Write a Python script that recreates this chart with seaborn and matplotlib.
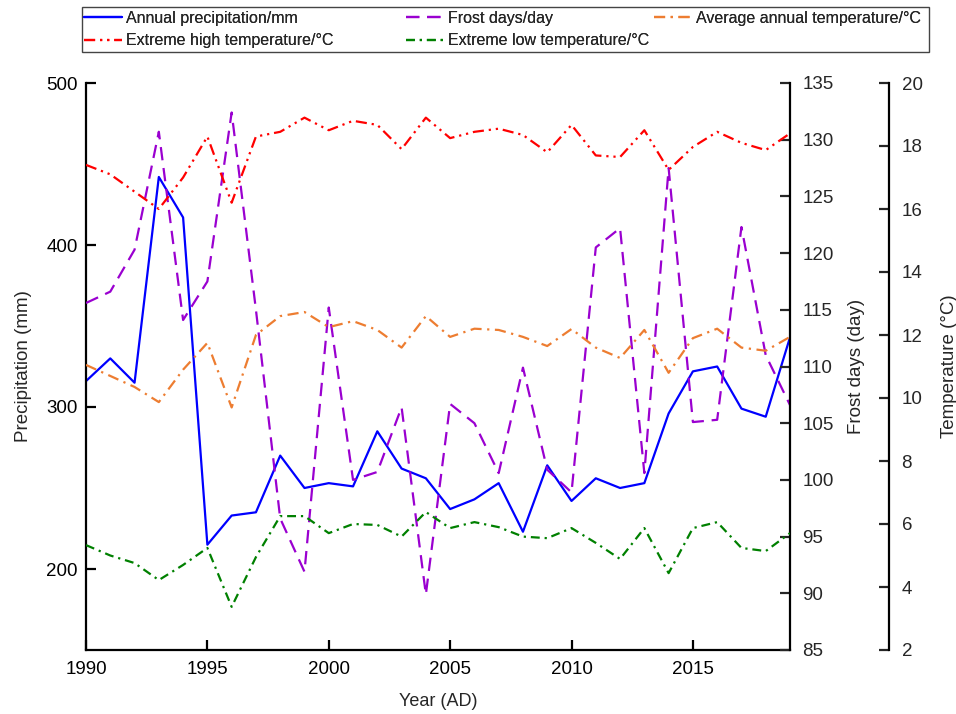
import matplotlib
matplotlib.use("Agg")
import matplotlib.pyplot as plt
from matplotlib.patches import Rectangle
import seaborn as sns
import numpy as np

years = list(range(1990, 2020))
precip = [316, 330, 315, 442, 417, 215, 233, 235, 270, 250, 253, 251, 285, 262, 256,
          237, 243, 253, 223, 264, 242, 256, 250, 253, 296, 322, 325, 299, 294, 343]
frost = [115.6, 116.6, 120.3, 130.7, 114.1, 117.5, 132.4, 115.0, 96.6, 91.9, 115.2, 100.0,
         100.7, 106.4, 89.9, 106.7, 105.0, 100.6, 109.9, 100.9, 98.9, 120.5, 122.2, 100.6,
         127.5, 105.1, 105.3, 122.3, 111.0, 106.6]
avg_temp = [11.05, 10.7, 10.35, 9.87, 10.9, 11.75, 9.7, 12.0, 12.6, 12.73, 12.25, 12.44,
            12.16, 11.6, 12.6, 11.94, 12.2, 12.16, 11.94, 11.65, 12.19, 11.6, 11.27, 12.16,
            10.8, 11.9, 12.2, 11.6, 11.5, 11.94]
high_temp = [17.4, 17.1, 16.55, 16.0, 17.0, 18.3, 16.2, 18.3, 18.45, 18.9, 18.5, 18.8,
             18.67, 17.9, 18.9, 18.25, 18.45, 18.55, 18.35, 17.8, 18.67, 17.7, 17.65, 18.5,
             17.24, 17.97, 18.45, 18.1, 17.87, 18.4]
low_temp = [5.33, 5.0, 4.76, 4.22, 4.7, 5.24, 3.37, 4.95, 6.25, 6.25, 5.71, 6.0,
            5.97, 5.6, 6.38, 5.87, 6.06, 5.9, 5.6, 5.55, 5.87, 5.4, 4.89, 5.87,
            4.44, 5.87, 6.06, 5.24, 5.14, 5.71]

labels = ["Annual precipitation/mm", "Frost days/day", "Average annual temperature/°C",
          "Extreme high temperature/°C", "Extreme low temperature/°C"]
x_ticks = [1990, 1995, 2000, 2005, 2010, 2015]
p_ticks = [200, 300, 400, 500]
f_ticks = [85, 90, 95, 100, 105, 110, 115, 120, 125, 130, 135]
t_ticks = [2, 4, 6, 8, 10, 12, 14, 16, 18, 20]

sns.set_style("white")
plt.rcParams["font.family"] = ["Liberation Sans", "DejaVu Sans"]
plt.rcParams["font.size"] = 13

W, H = 956, 714
fig = plt.figure(figsize=(W / 100, H / 100), dpi=100)
ax = fig.add_axes([86 / W, 1 - 650 / H, (790 - 86) / W, (650 - 83) / H])
ax2 = ax.twinx()
ax3 = ax.twinx()
ax3.spines["right"].set_position(("axes", (889 - 86) / (790 - 86)))

lw = 1.6
sns.lineplot(x=years, y=precip, ax=ax, color="#0000FF", linewidth=lw, legend=False)
sns.lineplot(x=years, y=frost, ax=ax2, color="#9A00D0", linewidth=lw,
             linestyle=(0, (6, 3.5)), legend=False)
sns.lineplot(x=years, y=avg_temp, ax=ax3, color="#ED7D31", linewidth=lw,
             linestyle=(0, (5, 2.5, 1, 2.5)), legend=False)
sns.lineplot(x=years, y=high_temp, ax=ax3, color="#FF0000", linewidth=lw,
             linestyle=(0, (5, 2.2, 1, 2.2, 1, 2.2)), legend=False)
sns.lineplot(x=years, y=low_temp, ax=ax3, color="#008000", linewidth=lw,
             linestyle=(0, (4, 2.2, 1, 2.2)), legend=False)

ax.set_xlim(1990, 2019)
ax.set_ylim(150, 500)
ax2.set_ylim(85, 135)
ax3.set_ylim(2, 20)
ax.set_xticks(x_ticks)
ax.set_yticks(p_ticks)
ax2.set_yticks(f_ticks)
ax3.set_yticks(t_ticks)

for a in (ax, ax2, ax3):
    a.spines["top"].set_visible(False)
    for s in a.spines.values():
        s.set_linewidth(1.6)
        s.set_color("black")
ax.spines["right"].set_visible(False)
for s in ("left", "bottom", "top"):
    ax2.spines[s].set_visible(False)
    ax3.spines[s].set_visible(False)

ax.tick_params(axis="both", direction="in", length=7, width=1.6, labelsize=13.5, pad=6,
               left=True, bottom=True, colors="black")
ax.tick_params(axis="x", pad=8)
ax2.tick_params(axis="y", direction="in", length=7, width=1.6, labelsize=13.5, pad=9, right=True)
ax3.tick_params(axis="y", direction="in", length=7, width=1.6, labelsize=13.5, pad=9, right=True)

ax.set_xlabel("Year (AD)", fontsize=13, labelpad=11)
ax.set_ylabel("Precipitation (mm)", fontsize=13.5, labelpad=10)
ax2.set_ylabel("Frost days (day)", fontsize=13.5, labelpad=10)
ax3.set_ylabel("Temperature (°C)", fontsize=13.5, labelpad=13)
ax.grid(False); ax2.grid(False); ax3.grid(False)

l_p = ax.get_lines()[0]
l_f = ax2.get_lines()[0]
l_a, l_h, l_l = ax3.get_lines()[:3]

# legend frame
fig.patches.append(Rectangle((82 / W, 1 - 52 / H), (929 - 82) / W, (52 - 7) / H,
                             transform=fig.transFigure, fill=False,
                             edgecolor="#444444", linewidth=1.0))
leg_kw = dict(loc="upper left", frameon=False, fontsize=11.5, handlelength=2.4,
              handletextpad=0.2, borderpad=0, labelspacing=0.45, borderaxespad=0)
cols = [([l_p, l_h], [labels[0], labels[3]], 84),
        ([l_f, l_l], [labels[1], labels[4]], 406),
        ([l_a], [labels[2]], 654)]
for hs, ls, xp in cols:
    lg = fig.legend(hs, ls, bbox_to_anchor=(xp / W, 1 - 11 / H), **leg_kw)
    fig.add_artist(lg)

fig.savefig("out.png", dpi=100)
